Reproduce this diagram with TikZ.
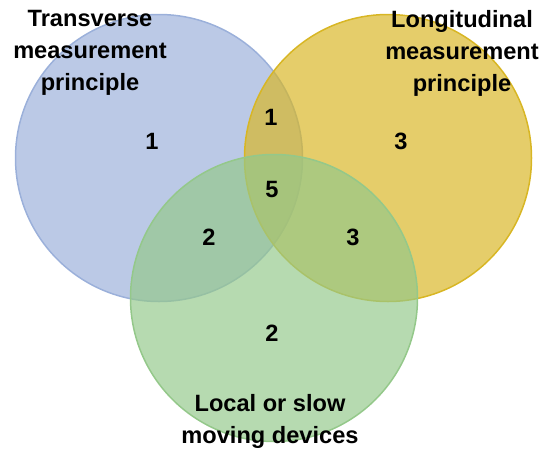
\documentclass[tikz,border=0pt]{standalone}
\usepackage{fontspec}
\setmainfont{Liberation Sans}
\definecolor{cblue}{RGB}{155,176,218}
\definecolor{cyellow}{RGB}{216,182,36}
\definecolor{cgreen}{RGB}{148,200,138}
\tikzset{
  setcirc/.style={circle, minimum size=287pt, inner sep=0pt, draw=#1, fill=#1, fill opacity=0.68, draw opacity=1, line width=1.5pt},
  lab/.style={font=\fontsize{23.6}{32.2}\selectfont\bfseries, align=center, inner sep=0pt, anchor=north},
  num/.style={font=\fontsize{23.6}{28}\selectfont\bfseries, inner sep=0pt}
}
\begin{document}
\begin{tikzpicture}[x=1pt,y=-1pt]
\useasboundingbox (0,0) rectangle (541,450);
% set circles
\node[setcirc=cblue]   (trans) at (159,158) {};
\node[setcirc=cyellow] (longi) at (388,158) {};
\node[setcirc=cgreen]  (local) at (274,298) {};
% set labels
\node[lab] (translab) at (90,10)  {Transverse\\measurement\\principle};
\node[lab] (longilab) at (462,10) {Longitudinal\\measurement\\principle};
\node[lab] (locallab) at (270,393.8)  {Local or slow\\moving devices};
% region counts
\node[num] (nA)   at (152,141) {1};
\node[num] (nB)   at (401,141) {3};
\node[num] (nAB)  at (271,117) {1};
\node[num] (nABC) at (272,189) {5};
\node[num] (nAC)  at (209,237) {2};
\node[num] (nBC)  at (353,237) {3};
\node[num] (nC)   at (272,333) {2};
\end{tikzpicture}
\end{document}
